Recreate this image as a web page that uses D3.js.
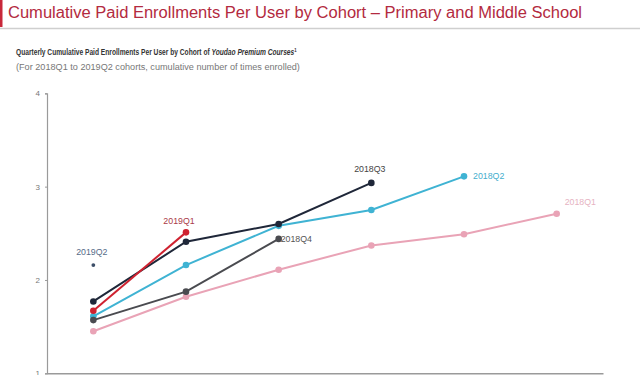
<!DOCTYPE html>
<html>
<head>
<meta charset="utf-8">
<script src="https://cdn.jsdelivr.net/npm/d3@7"></script>
<style>
  html, body { margin: 0; padding: 0; background: #fff; }
  svg { display: block; font-family: "Liberation Sans", Arial, sans-serif; }
</style>
</head>
<body>
<div id="chart"></div>
<script>
// Chart values
const periods = [1, 2, 3, 4, 5, 6];
const yTicks = [1, 2, 3, 4];

const cohort2018Q1 = [1.45, 1.82, 2.11, 2.37, 2.49, 2.71];
const cohort2018Q2 = [1.61, 2.16, 2.58, 2.75, 3.11];
const cohort2018Q3 = [1.77, 2.41, 2.60, 3.04];
const cohort2018Q4 = [1.57, 1.875, 2.44];
const cohort2019Q1 = [1.67, 2.51];
const cohort2019Q2 = [2.16];

// Drawing order: bottom to top
const cohorts = [
  { name: "2018Q1", values: cohort2018Q1, color: "#e9a3b6", labelColor: "#e6b3c2", labelPos: "aboveRight" },
  { name: "2018Q2", values: cohort2018Q2, color: "#3fb3d3", labelColor: "#45aecd", labelPos: "right" },
  { name: "2018Q4", values: cohort2018Q4, color: "#4a4b50", labelColor: "#555", labelPos: "right" },
  { name: "2018Q3", values: cohort2018Q3, color: "#1f2739", labelColor: "#444", labelPos: "above" },
  { name: "2019Q1", values: cohort2019Q1, color: "#cf2230", labelColor: "#a93a47", labelPos: "aboveLeft" },
  { name: "2019Q2", values: cohort2019Q2, color: "#3c4e68", labelColor: "#566c88", labelPos: "above", small: true }
];

const width = 640;
const height = 375;

const svg = d3.select("#chart").append("svg")
    .attr("width", width)
    .attr("height", height);

// Header: red side bar, title, rule
svg.append("rect")
    .attr("x", 0).attr("y", 0)
    .attr("width", 2.5).attr("height", 27)
    .attr("fill", "#c8283a");

svg.append("text")
    .attr("x", 8).attr("y", 18)
    .attr("font-size", 16)
    .attr("fill", "#b32a40")
    .attr("textLength", 574)
    .attr("lengthAdjust", "spacingAndGlyphs")
    .text("Cumulative Paid Enrollments Per User by Cohort \u2013 Primary and Middle School");

svg.append("line")
    .attr("x1", 0).attr("x2", width)
    .attr("y1", 28.5).attr("y2", 28.5)
    .attr("stroke", "#cfcfcf")
    .attr("stroke-width", 1.5);

// Subtitles (narrow font in the original, so squeeze horizontally)
function squeeze(textSel, x0, targetWidth) {
  const w = textSel.node().getComputedTextLength();
  const k = targetWidth / w;
  textSel.attr("x", 0).attr("transform", `translate(${x0},0) scale(${k},1)`);
}

const sub = svg.append("text")
    .attr("y", 55.5)
    .attr("font-size", 8.6)
    .attr("font-weight", "bold")
    .attr("fill", "#333");
sub.append("tspan").text("Quarterly Cumulative Paid Enrollments Per User by Cohort of ");
sub.append("tspan").attr("font-style", "italic").text("Youdao Premium Courses");
sub.append("tspan").attr("font-size", 5.5).attr("dy", -3).text("1");
squeeze(sub, 16, 281);

const sub2 = svg.append("text")
    .attr("y", 70.5)
    .attr("font-size", 8.6)
    .attr("fill", "#777")
    .text("(For 2018Q1 to 2019Q2 cohorts, cumulative number of times enrolled)");
squeeze(sub2, 16, 284);

// Scales
const x = d3.scalePoint()
    .domain(periods)
    .range([47, 603])
    .padding(0.5);

const y = d3.scaleLinear()
    .domain([1, 4])
    .range([373.3, 93.3]);

// Axes
const yAxis = svg.append("g")
    .attr("transform", "translate(47,0)")
    .call(d3.axisLeft(y).tickValues(yTicks).tickSize(2).tickPadding(5).tickFormat(d3.format("d")));
yAxis.select(".domain").attr("stroke", "#9a9a9a").attr("stroke-width", 1.2);
yAxis.selectAll(".tick line").attr("stroke", "#9a9a9a");
yAxis.selectAll(".tick text")
    .attr("fill", "#777")
    .attr("font-size", 8)
    .attr("font-family", "Liberation Sans, Arial, sans-serif");

const xAxis = svg.append("g")
    .attr("transform", "translate(0,373.3)")
    .call(d3.axisBottom(x).tickSize(0).tickFormat(""));
xAxis.select(".domain").attr("stroke", "#9a9a9a").attr("stroke-width", 1.5);

// Lines and points
const line = d3.line()
    .x((d, i) => x(periods[i]))
    .y(d => y(d));

cohorts.forEach(c => {
  const g = svg.append("g");
  if (c.values.length > 1) {
    g.append("path")
        .datum(c.values)
        .attr("d", line)
        .attr("fill", "none")
        .attr("stroke", c.color)
        .attr("stroke-width", 2);
  }
  g.selectAll("circle")
      .data(c.values)
      .join("circle")
      .attr("cx", (d, i) => x(periods[i]))
      .attr("cy", d => y(d))
      .attr("r", c.small ? 1.9 : 3.3)
      .attr("fill", c.color);

  // Label at the last point
  const last = c.values.length - 1;
  const lx = x(periods[last]);
  const ly = y(c.values[last]);
  const label = g.append("text")
      .attr("font-size", 8.8)
      .attr("fill", c.labelColor)
      .text(c.name);
  if (c.labelPos === "right") {
    label.attr("x", lx + 2).attr("y", ly + 3).attr("text-anchor", "start");
    if (c.name === "2018Q2") label.attr("x", lx + 9);
  } else if (c.labelPos === "aboveLeft") {
    label.attr("x", lx - 7).attr("y", ly - 8).attr("text-anchor", "middle");
  } else if (c.labelPos === "aboveRight") {
    label.attr("x", lx + 8).attr("y", ly - 9).attr("text-anchor", "start");
  } else {
    label.attr("x", lx - 1.5).attr("y", ly - 10.5).attr("text-anchor", "middle");
  }
});
</script>
</body>
</html>
